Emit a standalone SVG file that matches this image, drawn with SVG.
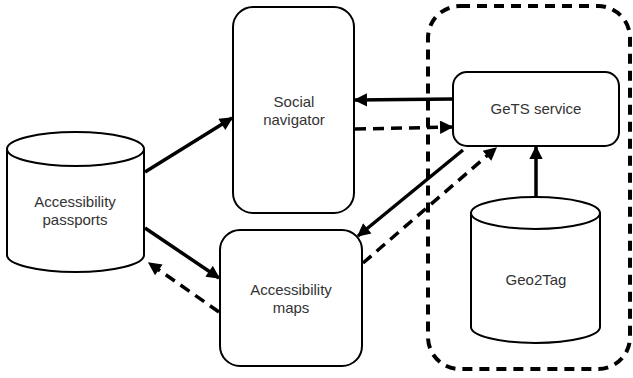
<svg xmlns="http://www.w3.org/2000/svg" width="633" height="378" viewBox="0 0 633 378">
<style>
.n{fill:#fff;stroke:#000;stroke-width:2}
.t{font-family:"Liberation Sans",Arial,sans-serif;font-size:15px;fill:#333;text-anchor:middle}
.c{fill:none;stroke:#000;stroke-width:3.5}
.d{stroke-dasharray:11,7}
</style>
<defs>
<marker id="a" viewBox="0 0 10 10" refX="9" refY="5" markerWidth="4.4" markerHeight="3.8" orient="auto" markerUnits="strokeWidth"><path d="M0,0L10,5L0,10z" fill="#000"/></marker>
</defs>
<g id="container"><rect x="428" y="6" width="202" height="363" rx="32" fill="none" stroke="#000" stroke-width="4" stroke-dasharray="10,7"/></g>
<g id="passports">
<path class="n" d="M7,149V255A68.5,17 0 0 0 144,255V149A68.5,17 0 0 0 7,149A68.5,17 0 0 0 144,149"/>
<text class="t" x="75" y="207">Accessibility</text><text class="t" x="75" y="225">passports</text>
</g>
<g id="social"><rect class="n" x="233" y="7" width="121" height="206" rx="20"/>
<text class="t" x="294" y="107">Social</text><text class="t" x="294" y="125">navigator</text></g>
<g id="maps"><rect class="n" x="220" y="230" width="142" height="136" rx="20"/>
<text class="t" x="291" y="295">Accessibility</text><text class="t" x="291" y="313">maps</text></g>
<g id="gets"><rect class="n" x="453" y="72" width="166" height="74" rx="14"/>
<text class="t" x="536" y="114">GeTS service</text></g>
<g id="geo2tag">
<path class="n" d="M471,213V327A64.5,16 0 0 0 600,327V213A64.5,16 0 0 0 471,213A64.5,16 0 0 0 600,213"/>
<text class="t" x="536" y="285">Geo2Tag</text></g>
<g id="connectors">
<line class="c" x1="145" y1="172" x2="232" y2="118" marker-end="url(#a)"/>
<line class="c" x1="145" y1="228" x2="219" y2="278" marker-end="url(#a)"/>
<line class="c d" x1="219" y1="312" x2="149" y2="263" marker-end="url(#a)"/>
<line class="c" x1="453" y1="99" x2="355" y2="100" marker-end="url(#a)"/>
<line class="c d" x1="355" y1="129" x2="452" y2="127" marker-end="url(#a)"/>
<line class="c" x1="463" y1="150" x2="358" y2="236" marker-end="url(#a)"/>
<line class="c d" x1="363" y1="263" x2="496" y2="148" marker-end="url(#a)"/>
<line class="c" x1="536" y1="197" x2="536" y2="147" marker-end="url(#a)"/>
</g>
</svg>
